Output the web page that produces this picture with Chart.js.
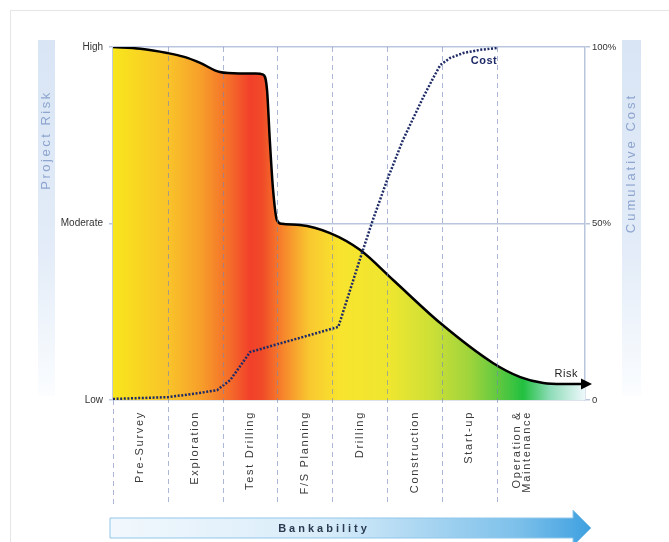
<!DOCTYPE html>
<html>
<head>
<meta charset="utf-8">
<script src="https://cdn.jsdelivr.net/npm/chart.js@4.4.0/dist/chart.umd.min.js"></script>
<style>
html, body { margin: 0; padding: 0; background: #fff; }
canvas { display: block; }
</style>
</head>
<body>
<canvas id="riskChart" width="669" height="542"></canvas>
<script>
// ================= DATA =================

const stages = [
    "Pre-Survey", "Exploration", "Test Drilling", "F/S Planning",
    "Drilling", "Construction", "Start-up", ["Operation &", "Maintenance"]
];

// x = stage position (0 = start of Pre-Survey), y = % of scale
const riskX = [0, 0.5, 0.99, 1.3, 1.59, 1.95, 2.3, 2.6, 2.74, 2.81, 2.86, 2.92, 2.99, 3.08, 3.41, 3.96, 4.51, 5.11, 5.97, 6.93, 7.43, 7.85, 8.2, 8.61];
const riskY = [100, 99.5, 98.3, 97.2, 95.5, 92.9, 92.5, 92.5, 92.2, 87.8, 73.7, 59.5, 51, 49.9, 49.6, 47.3, 42.5, 34, 21.8, 10.5, 6.5, 4.8, 4.5, 4.5];

const costX = [0, 0.99, 1.5, 1.9, 2.14, 2.32, 2.5, 4.11, 4.54, 4.74, 5.0, 5.29, 5.66, 5.84, 5.97, 6.15, 6.39, 6.7, 7.01];
const costY = [0.3, 0.8, 1.8, 2.8, 5.7, 9.6, 13.6, 20.7, 41.6, 51, 62.3, 73.7, 85.8, 91.2, 94.9, 96.9, 98.3, 99.2, 99.7];

const tickValues = [0, 50, 100];
const riskTickLabels = ["Low", "Moderate", "High"];
const costTickLabels = ["0", "50%", "100%"];

const riskPoints = riskX.map((x, i) => ({ x: x, y: riskY[i] }));
const costPoints = costX.map((x, i) => ({ x: x, y: costY[i] }));

// ================= STYLE =================

const FONT = "'Liberation Sans', Arial, sans-serif";

const fillStops = [
    [0, "#f8e61c"], [0.12, "#f9c22a"], [0.184, "#f7a02a"], [0.25, "#f46a2a"],
    [0.29, "#f2402a"], [0.316, "#f04a28"], [0.364, "#f78a2c"], [0.417, "#f9c830"],
    [0.48, "#f8e42e"], [0.587, "#eee630"], [0.67, "#cfe036"], [0.756, "#9fd43c"],
    [0.82, "#5cc840"], [0.869, "#22c040"], [0.926, "#8edcb8"], [1, "#eef8fc"]
];

function riskGradient(context){
    const chart = context.chart;
    const area = chart.chartArea;
    if(!area) return "#f8e61c";
    const g = chart.ctx.createLinearGradient(area.left, 0, area.right, 0);
    fillStops.forEach(s => g.addColorStop(s[0], s[1]));
    return g;
}

function sideBand(ctx, x, w, top, bottom, text, cy, spacing){
    const g = ctx.createLinearGradient(0, top, 0, bottom);
    g.addColorStop(0, "#d9e5f5");
    g.addColorStop(0.6, "#e3ecf8");
    g.addColorStop(1, "#fbfdff");
    ctx.fillStyle = g;
    ctx.fillRect(x, top, w, bottom - top);

    ctx.save();
    ctx.translate(x + w / 2, cy);
    ctx.rotate(-Math.PI / 2);
    ctx.letterSpacing = spacing;
    ctx.font = "13px " + FONT;
    ctx.fillStyle = "#8ea5cf";
    ctx.textAlign = "center";
    ctx.textBaseline = "middle";
    ctx.fillText(text, 0, 0);
    ctx.restore();
}

// ================= PLUGINS =================

const backgroundPlugin = {
    id: "backgroundPlugin",
    beforeDraw(chart){
        const ctx = chart.ctx;
        ctx.save();
        ctx.fillStyle = "#fff";
        ctx.fillRect(0, 0, chart.width, chart.height);
        ctx.strokeStyle = "#e6e6e6";
        ctx.lineWidth = 1;
        ctx.strokeRect(10.5, 10.5, 700, 600);

        sideBand(ctx, 38, 17, 40, 396, "Project Risk", 140, "2.5px");
        sideBand(ctx, 622, 19, 40, 396, "Cumulative Cost", 163, "3px");
        ctx.restore();
    }
};

const stagePlugin = {
    id: "stagePlugin",
    afterDatasetsDraw(chart){
        const ctx = chart.ctx;
        const xs = chart.scales.x;
        const area = chart.chartArea;

        // dashed stage boundaries
        ctx.save();
        ctx.strokeStyle = "rgba(115,135,185,0.6)";
        ctx.lineWidth = 1;
        ctx.setLineDash([5, 4]);
        for(let i = 0; i < stages.length; i++){
            const x = Math.round(xs.getPixelForValue(i)) + 0.5;
            ctx.beginPath();
            ctx.moveTo(x, i === 0 ? area.bottom : area.top);
            ctx.lineTo(x, 505);
            ctx.stroke();
        }
        ctx.restore();

        // stage names
        ctx.save();
        ctx.font = "11px " + FONT;
        ctx.letterSpacing = "1.7px";
        ctx.fillStyle = "#3a3a3a";
        ctx.textAlign = "right";
        ctx.textBaseline = "middle";
        stages.forEach((label, i) => {
            const lines = Array.isArray(label) ? label : [label];
            const x = xs.getPixelForValue(i + 0.5);
            ctx.save();
            ctx.translate(x, area.bottom + 11);
            ctx.rotate(-Math.PI / 2);
            lines.forEach((line, k) => {
                const off = lines.length > 1 ? (k - (lines.length - 1) / 2) * 10 - 2.5 : 0;
                ctx.fillText(line, 0, off);
            });
            ctx.restore();
        });
        ctx.restore();
    }
};

const decorPlugin = {
    id: "decorPlugin",
    afterDraw(chart){
        const ctx = chart.ctx;
        const area = chart.chartArea;

        const riskMeta = chart.getDatasetMeta(1).data;
        const rEnd = riskMeta[riskMeta.length - 1];
        const costMeta = chart.getDatasetMeta(0).data;
        const cEnd = costMeta[costMeta.length - 1];

        ctx.save();

        // risk arrow head
        ctx.fillStyle = "#000";
        ctx.beginPath();
        ctx.moveTo(rEnd.x + 7, rEnd.y);
        ctx.lineTo(rEnd.x - 4, rEnd.y - 5.5);
        ctx.lineTo(rEnd.x - 4, rEnd.y + 5.5);
        ctx.closePath();
        ctx.fill();

        // series names
        ctx.font = "11px " + FONT;
        ctx.letterSpacing = "0.5px";
        ctx.fillStyle = "#222";
        ctx.textAlign = "right";
        ctx.textBaseline = "middle";
        ctx.fillText("Risk", rEnd.x - 7, rEnd.y - 10);

        ctx.font = "bold 11px " + FONT;
        ctx.fillStyle = "#1f2b66";
        ctx.fillText("Cost", cEnd.x, cEnd.y + 13);

        // bankability arrow
        const x0 = area.left - 3;
        const x1 = area.right - 12;
        const g = ctx.createLinearGradient(x0, 0, x1 + 18, 0);
        g.addColorStop(0, "#f2f8fd");
        g.addColorStop(0.45, "#d8ecf9");
        g.addColorStop(0.85, "#7cc0ea");
        g.addColorStop(1, "#3ea0e0");
        ctx.fillStyle = g;
        ctx.strokeStyle = "#8fc7ea";
        ctx.lineWidth = 1;
        ctx.beginPath();
        ctx.moveTo(x0, 518);
        ctx.lineTo(x1, 518);
        ctx.lineTo(x1, 510);
        ctx.lineTo(x1 + 18, 528);
        ctx.lineTo(x1, 546);
        ctx.lineTo(x1, 538);
        ctx.lineTo(x0, 538);
        ctx.closePath();
        ctx.fill();
        ctx.stroke();

        ctx.font = "bold 11px " + FONT;
        ctx.letterSpacing = "3px";
        ctx.fillStyle = "#2a3a50";
        ctx.textAlign = "center";
        ctx.fillText("Bankability", 324, 528.5);

        ctx.restore();
    }
};

// ================= CHART =================

const ctx = document.getElementById("riskChart").getContext("2d");

new Chart(ctx, {
    type: "line",
    data: {
        datasets: [
            {
                label: "Cost",
                data: costPoints,
                yAxisID: "y2",
                borderColor: "#1f2b66",
                borderWidth: 2.5,
                borderDash: [2, 1.6],
                tension: 0,
                fill: false,
                pointRadius: 0,
                order: 0
            },
            {
                label: "Risk",
                data: riskPoints,
                yAxisID: "y",
                borderColor: "#000",
                borderWidth: 2.5,
                backgroundColor: riskGradient,
                fill: "origin",
                cubicInterpolationMode: "monotone",
                pointRadius: 0,
                order: 1
            }
        ]
    },
    options: {
        responsive: false,
        animation: false,
        devicePixelRatio: 1,
        layout: { padding: { top: 47, bottom: 142, left: 0, right: 0 } },
        plugins: {
            legend: { display: false },
            tooltip: { enabled: false }
        },
        scales: {
            x: {
                type: "linear",
                min: 0,
                max: 8.61,
                display: false
            },
            y: {
                position: "left",
                min: 0,
                max: 100,
                z: 1,
                afterBuildTicks: s => { s.ticks = tickValues.map(v => ({ value: v })); },
                afterFit: s => { s.width = 113; },
                ticks: {
                    callback: (v, i) => riskTickLabels[i],
                    color: "#333",
                    padding: 6,
                    font: { family: FONT, size: 10 }
                },
                grid: { color: "rgba(140,160,200,0.6)", lineWidth: 1.5, tickLength: 4 },
                border: { color: "#c5cdd8", width: 1.5 }
            },
            y2: {
                position: "right",
                min: 0,
                max: 100,
                afterBuildTicks: s => { s.ticks = tickValues.map(v => ({ value: v })); },
                afterFit: s => { s.width = 84; },
                ticks: {
                    callback: (v, i) => costTickLabels[i],
                    color: "#333",
                    padding: 2,
                    font: { family: FONT, size: 9.5 }
                },
                grid: { drawOnChartArea: false, color: "#b9c5dc", lineWidth: 1.5, tickLength: 5 },
                border: { color: "#b9c5dc", width: 1.5 }
            }
        }
    },
    plugins: [backgroundPlugin, stagePlugin, decorPlugin]
});
</script>
</body>
</html>
